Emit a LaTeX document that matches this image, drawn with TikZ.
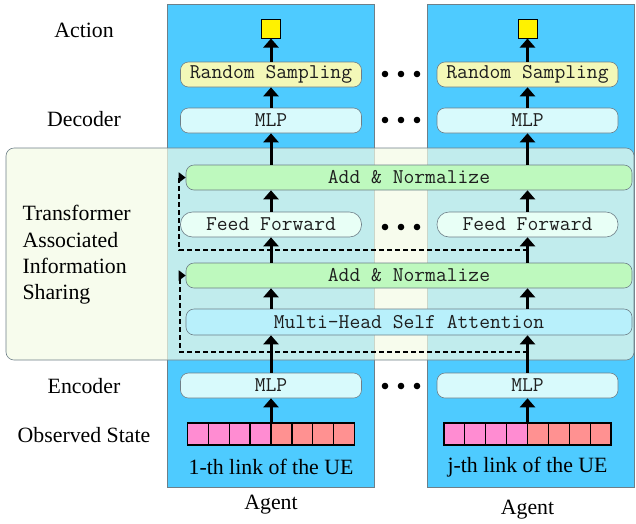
\documentclass[tikz,border=0pt]{standalone}
\usepackage{fontspec}
\setmainfont{Liberation Serif}
\usepackage{xcolor}
\usepackage{tikz}
\usetikzlibrary{positioning, arrows.meta, calc}
\definecolor{agentbg}{HTML}{4ECBFF}
\definecolor{bandbg}{HTML}{F3FBE6}
\definecolor{boxline}{HTML}{6E7F88}
\definecolor{sampfill}{HTML}{F3F8B8}
\definecolor{mlpfill}{HTML}{D8FAFC}
\definecolor{addfill}{HTML}{BEF9BE}
\definecolor{fffill}{HTML}{E8FFF6}
\definecolor{attfill}{HTML}{B8F0FB}
\definecolor{cellpink}{HTML}{FF8CD2}
\definecolor{cellred}{HTML}{FF9191}
\definecolor{txt}{HTML}{1E1E1E}

\begin{document}
\begin{tikzpicture}[
  x=1pt, y=-1pt,
  font=\fontsize{21.8}{26.3}\selectfont,
  agentbox/.style={rectangle, draw=boxline, fill=agentbg, line width=0.6pt, inner sep=0pt},
  blk/.style={rectangle, rounded corners=8pt, draw=boxline, line width=0.6pt, inner sep=0pt,
    minimum height=25pt, text=txt, font=\ttfamily\fontsize{21}{24}\selectfont},
  colblk/.style={blk, minimum width=181pt},
  wideblk/.style={blk, minimum width=446pt},
  cell/.style={rectangle, draw=black, line width=1.3pt, inner sep=0pt, minimum width=20.9pt, minimum height=22pt},
  flow/.style={line width=3pt, -{Triangle[width=15pt,length=9pt]}},
  resid/.style={line width=2pt, dash pattern=on 5pt off 3pt, -{Triangle[width=10pt,length=7pt]}},
  lbl/.style={text=black}
]
  \useasboundingbox (0,0) rectangle (636,523);
  % agents
  \foreach \c/\xc/\ax/\ay/\lnk in {a/271/270.5/505/1-th, b/527.5/530.5/510/j-th} {
    \node[agentbox, minimum width=207pt, minimum height=483pt] (agent\c) at (\ax,245.5) {};
    \coordinate (col\c) at (\xc,0);
    \node[lbl] (agentlbl\c) at (\xc,\ay) {Agent};
  }
  % shared transformer band
  \draw[draw=boxline, fill=bandbg, fill opacity=0.7, line width=0.6pt, rounded corners=8pt]
    (6,148) rectangle (634,360);
  \node[wideblk, fill=addfill] (an2) at (409,177.5) {Add \& Normalize};
  \node[wideblk, fill=addfill] (an1) at (409,275.5) {Add \& Normalize};
  \node[wideblk, fill=attfill, minimum height=26pt] (mhsa) at (409,322) {Multi-Head Self Attention};
  % per-agent blocks
  \foreach \c/\xc/\lnk in {a/271/1-th, b/527.5/j-th} {
    \node[rectangle, draw=black, line width=1pt, fill=yellow, minimum size=19pt, inner sep=0pt] (sq\c) at (\xc,28.5) {};
    \node[colblk, fill=sampfill] (rs\c) at (\xc,74.5) {Random Sampling};
    \node[colblk, fill=mlpfill] (dec\c) at (\xc,120.5) {MLP};
    \node[colblk, fill=fffill, rounded corners=12pt] (ff\c) at (\xc,224.5) {Feed Forward};
    \node[colblk, fill=mlpfill] (enc\c) at (\xc,385.5) {MLP};
    \foreach \i in {1,...,8} {
      \pgfmathsetmacro{\cx}{\xc-83.6+(\i-0.5)*20.9}
      \ifnum\i<5 \def\cc{cellpink}\else\def\cc{cellred}\fi
      \node[cell, fill=\cc] (cell\c-\i) at (\cx,434) {};
    }
    \node[lbl] (link\c) at (\xc,467) {\lnk{} link of the UE};
    % flow upward
    \draw[flow] (col\c |- cell\c-4.north) -- (enc\c.south);
    \draw[flow] (enc\c.north) -- (col\c |- mhsa.south);
    \draw[flow] (col\c |- mhsa.north) -- (col\c |- an1.south);
    \draw[flow] (col\c |- an1.north) -- (ff\c.south);
    \draw[flow] (ff\c.north) -- (col\c |- an2.south);
    \draw[flow] (col\c |- an2.north) -- (dec\c.south);
    \draw[flow] (dec\c.north) -- (rs\c.south);
    \draw[flow] (rs\c.north) -- (sq\c.south);
  }
  % residual links
  \coordinate (r1) at (180,352);
  \coordinate (r2) at (179,250);
  \draw[resid] (colb |- r1) -- (r1) |- (an1.west);
  \draw[resid] (colb |- r2) -- (r2) |- (an2.west);
  % ellipsis dots
  \foreach \y in {74,120,227,386}
    \foreach \x in {385,401,417}
      \fill (\x,\y) circle (3.3pt);
  % row labels
  \node[lbl] (action) at (84,30) {Action};
  \node[lbl] (decoder) at (84,119) {Decoder};
  \node[lbl, anchor=west, align=left] (tais) at (19,255) {Transformer\\Associated\\Information\\Sharing};
  \node[lbl] (encoder) at (84,386) {Encoder};
  \node[lbl] (observed) at (84,435) {Observed State};
\end{tikzpicture}
\end{document}
